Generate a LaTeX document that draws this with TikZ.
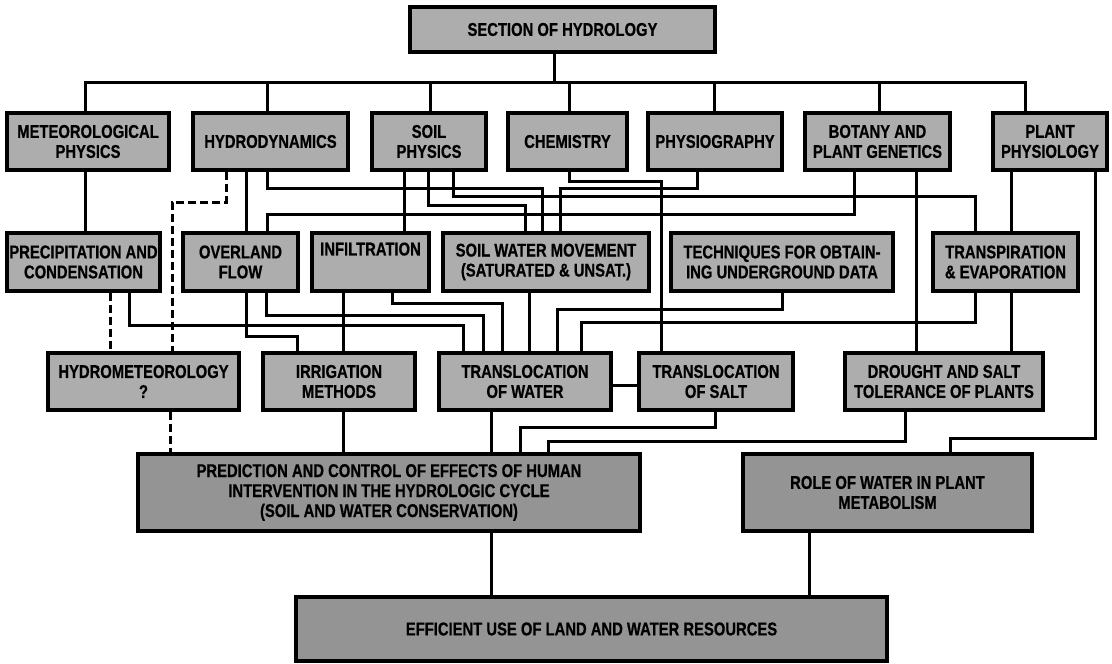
\documentclass[tikz,border=0pt]{standalone}
\usepackage{fontspec}
\newfontfamily\boxfont{Liberation Sans}[FakeStretch=0.8,BoldFeatures={FakeBold=0.6}]
\usepackage{tikz}
\usetikzlibrary{calc}
\tikzset{
  box/.style={draw,line width=3.2pt,fill=black!32,align=center,inner sep=1pt,font=\boxfont\bfseries\fontsize{18.5}{20}\selectfont},
  bigbox/.style={box,fill=black!42},
  ln/.style={line width=3pt},
  dln/.style={ln,dash pattern=on 8pt off 4pt}
}

\begin{document}
\begin{tikzpicture}[x=1pt,y=-1pt]
\useasboundingbox (0,0) rectangle (1112,664);
% top
\node[box,minimum width=305pt,minimum height=45pt] (sec) at (562.5,29.5) {SECTION OF HYDROLOGY};
% disciplines
\node[box,minimum width=162pt,minimum height=57pt] (met) at (88,141.5) {METEOROLOGICAL\\PHYSICS};
\node[box,minimum width=155pt,minimum height=57pt] (hyd) at (270.5,141.5) {HYDRODYNAMICS};
\node[box,minimum width=114pt,minimum height=57pt] (sph) at (429,141.5) {SOIL\\PHYSICS};
\node[box,minimum width=119pt,minimum height=57pt] (chm) at (567.5,141.5) {CHEMISTRY};
\node[box,minimum width=134pt,minimum height=57pt] (phg) at (715,141.5) {PHYSIOGRAPHY};
\node[box,minimum width=145pt,minimum height=57pt] (bot) at (877.5,141.5) {BOTANY AND\\PLANT GENETICS};
\node[box,minimum width=114pt,minimum height=57pt] (pph) at (1050,141.5) {PLANT\\PHYSIOLOGY};
% processes
\node[box,minimum width=153pt,minimum height=58pt] (pre) at (83.5,262) {PRECIPITATION AND\\CONDENSATION};
\node[box,minimum width=115pt,minimum height=58pt] (ovl) at (240.5,262) {OVERLAND\\FLOW};
\node[box,minimum width=117pt,minimum height=58pt] (inf) at (370.5,262) {INFILTRATION\\\strut};
\node[box,minimum width=206pt,minimum height=58pt] (swm) at (546,262) {SOIL WATER MOVEMENT\\(SATURATED \& UNSAT.)};
\node[box,minimum width=222pt,minimum height=58pt] (tec) at (782,262) {TECHNIQUES FOR OBTAIN-\\ING UNDERGROUND DATA};
\node[box,minimum width=145pt,minimum height=58pt] (tra) at (1005.5,262) {TRANSPIRATION\\\& EVAPORATION};
% applied topics
\node[box,minimum width=191pt,minimum height=57pt] (hym) at (143.5,381.5) {HYDROMETEOROLOGY\\?};
\node[box,minimum width=152pt,minimum height=57pt] (irr) at (339,381.5) {IRRIGATION\\METHODS};
\node[box,minimum width=172pt,minimum height=57pt] (tlw) at (525,381.5) {TRANSLOCATION\\OF WATER};
\node[box,minimum width=154pt,minimum height=57pt] (tls) at (716,381.5) {TRANSLOCATION\\OF SALT};
\node[box,minimum width=198pt,minimum height=57pt] (drt) at (944,381.5) {DROUGHT AND SALT\\TOLERANCE OF PLANTS};
% goals
\node[bigbox,minimum width=502pt,minimum height=77pt] (prd) at (389,492.5) {PREDICTION AND CONTROL OF EFFECTS OF HUMAN\\INTERVENTION IN THE HYDROLOGIC CYCLE\\(SOIL AND WATER CONSERVATION)};
\node[bigbox,minimum width=289pt,minimum height=77pt] (rol) at (887.5,492.5) {ROLE OF WATER IN PLANT\\METABOLISM};
\node[bigbox,minimum width=591pt,minimum height=64pt] (eff) at (591.5,629) {EFFICIENT USE OF LAND AND WATER RESOURCES};
% bus
\draw[ln] (554,0 |- sec.south) -- (554,82);
\draw[ln] (85,0 |- met.north) -- (85,82) -- (1025,82) -- (1025,0 |- pph.north);
\foreach \xx/\nn in {267/hyd,430/sph,569/chm,714/phg,879/bot}
  \draw[ln] (\xx,82) -- (\xx,0 |- \nn.north);
% disciplines to processes
\draw[ln] (85,0 |- met.south) -- (85,0 |- pre.north);
\draw[dln] (226,0 |- hyd.south) -- (226,202) -- (172,202) -- (172,0 |- hym.north);
\draw[ln] (246,0 |- hyd.south) -- (246,0 |- ovl.north);
\draw[ln] (267,0 |- hyd.south) -- (267,188) -- (542,188) -- (542,0 |- swm.north);
\draw[ln] (404,0 |- sph.south) -- (404,0 |- inf.north);
\draw[ln] (428,0 |- sph.south) -- (428,205) -- (525,205) -- (525,0 |- swm.north);
\draw[ln] (453,0 |- sph.south) -- (453,196) -- (975,196) -- (975,0 |- tra.north);
\draw[ln] (569,0 |- chm.south) -- (569,181) -- (661,181) -- (661,0 |- tls.north);
\draw[ln] (697,0 |- phg.south) -- (697,188) -- (560,188) -- (560,0 |- swm.north);
\draw[ln] (854,0 |- bot.south) -- (854,214) -- (267,214) -- (267,0 |- ovl.north);
\draw[ln] (916,0 |- bot.south) -- (916,0 |- drt.north);
\draw[ln] (1011,0 |- pph.south) -- (1011,0 |- tra.north);
\draw[ln] (1095,0 |- pph.south) -- (1095,438) -- (950,438) -- (950,0 |- rol.north);
% processes to applied topics
\draw[dln] (110,0 |- pre.south) -- (110,0 |- hym.north);
\draw[ln] (129,0 |- pre.south) -- (129,325) -- (463,325) -- (463,0 |- tlw.north);
\draw[ln] (246,0 |- ovl.south) -- (246,336) -- (297,336) -- (297,0 |- irr.north);
\draw[ln] (266,0 |- ovl.south) -- (266,315) -- (483,315) -- (483,0 |- tlw.north);
\draw[ln] (343,0 |- inf.south) -- (343,0 |- irr.north);
\draw[ln] (392,0 |- inf.south) -- (392,303) -- (502,303) -- (502,0 |- tlw.north);
\draw[ln] (529,0 |- swm.south) -- (529,0 |- tlw.north);
\draw[ln] (782,0 |- tec.south) -- (782,309) -- (557,309) -- (557,0 |- tlw.north);
\draw[ln] (975,0 |- tra.south) -- (975,322) -- (581,322) -- (581,0 |- tlw.north);
\draw[ln] (1011,0 |- tra.south) -- (1011,0 |- drt.north);
\draw[ln] (tlw.east |- 0,385) -- (tls.west |- 0,385);
% applied topics to goals
\draw[dln] (170,0 |- hym.south) -- (170,0 |- prd.north);
\draw[ln] (343,0 |- irr.south) -- (343,0 |- prd.north);
\draw[ln] (491,0 |- tlw.south) -- (491,0 |- prd.north);
\draw[ln] (715,0 |- tls.south) -- (715,427) -- (520,427) -- (520,0 |- prd.north);
\draw[ln] (905,0 |- drt.south) -- (905,441) -- (548,441) -- (548,0 |- prd.north);
\draw[ln] (491,0 |- prd.south) -- (491,0 |- eff.north);
\draw[ln] (809,0 |- rol.south) -- (809,0 |- eff.north);
\end{tikzpicture}
\end{document}
